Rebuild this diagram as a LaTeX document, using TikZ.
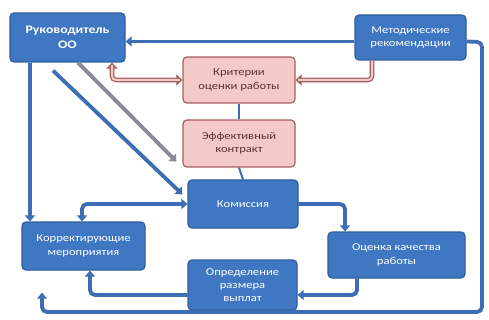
\documentclass[tikz,border=0pt]{standalone}
\usepackage{fontspec}
\setmainfont[FakeStretch=1.2]{Carlito}
\usetikzlibrary{arrows.meta}
\definecolor{boxblue}{HTML}{3F77C2}
\definecolor{boxedge}{HTML}{2F5E9E}
\definecolor{lineblue}{HTML}{3C6DB5}
\definecolor{boxpink}{HTML}{F3CAC7}
\definecolor{pinkedge}{HTML}{A2605E}
\definecolor{pinktext}{HTML}{5A3434}
\definecolor{greyline}{HTML}{8A8A96}
\tikzset{
  box/.style={rounded corners=4pt, line width=1.2pt, align=center, inner sep=2pt,
    font=\fontsize{10.5}{13.5}\selectfont},
  bluebox/.style={box, draw=boxedge, fill=boxblue, text=white},
  pinkbox/.style={box, draw=pinkedge, fill=boxpink, text=pinktext},
  conn/.style={draw=lineblue, line width=3.8pt, rounded corners=5pt,
    -{Triangle[length=6pt,width=10pt]}},
  biconn/.style={conn, {Triangle[length=6pt,width=10pt]}-{Triangle[length=6pt,width=10pt]}},
  thinconn/.style={draw=lineblue, line width=2pt},
  pinkouter/.style={draw=pinkedge, line width=4.6pt, rounded corners=4pt},
  pinkinner/.style={draw=boxpink, line width=2pt, rounded corners=4pt, shorten >=2.5pt},
  greyconn/.style={draw=greyline, line width=3.8pt, -{Triangle[length=6pt,width=10pt]}},
}
\begin{document}
\begin{tikzpicture}[x=1pt,y=-1pt]
\useasboundingbox[fill=white] (0,0) rectangle (489,320);
% nodes
\node[bluebox, minimum width=115pt, minimum height=49pt, font=\bfseries\fontsize{11.5}{15}\selectfont] (ruk) at (67.5,37.5) {Руководитель\\ОО};
\node[bluebox, minimum width=111pt, minimum height=45pt] (met) at (410.5,37.5) {Методические\\рекомендации};
\node[pinkbox, minimum width=112pt, minimum height=46pt] (krit) at (239,80) {Критерии\\оценки работы};
\node[pinkbox, minimum width=112pt, minimum height=47pt] (eff) at (239,143.5) {Эффективный\\контракт};
\node[bluebox, minimum width=110pt, minimum height=48pt] (kom) at (243,204) {Комиссия};
\node[bluebox, minimum width=123pt, minimum height=48pt] (korr) at (83.5,246) {Корректирующие\\мероприятия};
\node[bluebox, minimum width=137pt, minimum height=46pt] (ocen) at (396.5,255) {Оценка качества\\работы};
\node[bluebox, minimum width=109pt, minimum height=50pt, font=\fontsize{10.5}{12.8}\selectfont] (opr) at (242.5,285) {Определение\\размера\\выплат};
% connectors
\draw[conn] ([yshift=-4pt]met.west) -- ([yshift=-4pt]ruk.east);
\draw[conn, shorten >=22pt] ([yshift=-4pt]met.east) -- (482,42) -- (482,312) -- (42,312) -- (korr.south -| 42,0);
\draw[pinkouter, -{Triangle[length=6pt,width=11pt]}] (met.south -| 372,0) |- (krit.east);
\draw[pinkinner] (met.south -| 372,0) |- (krit.east);
\draw[pinkouter, {Triangle[length=6pt,width=11pt]}-{Triangle[length=6pt,width=11pt]}] (krit.west) -| (ruk.south -| 112,0);
\draw[pinkinner, shorten <=2.5pt] (krit.west) -| (ruk.south -| 112,0);
\draw[thinconn] (krit.south) -- (eff.north);
\draw[thinconn] (eff.south) -- (kom.north);
\draw[greyconn] (ruk.south -| 78,0) -- ([shift={(-6pt,6pt)}]eff.south west);
\draw[conn] ([yshift=-8pt]ruk.south -| 53,0) -- ([shift={(-5pt,-15pt)}]kom.north west);
\draw[conn] (ruk.south -| 30,0) -- (korr.north -| 30,0);
\draw[biconn] (kom.west) -| (korr.north -| 82,0);
\draw[conn] (kom.east) -| (ocen.north -| 345,0);
\draw[conn] (ocen.south -| 357,0) |- ([yshift=-10pt]opr.east);
\draw[conn] ([yshift=-10pt]opr.west) -| (korr.south -| 90,0);
\end{tikzpicture}
\end{document}
